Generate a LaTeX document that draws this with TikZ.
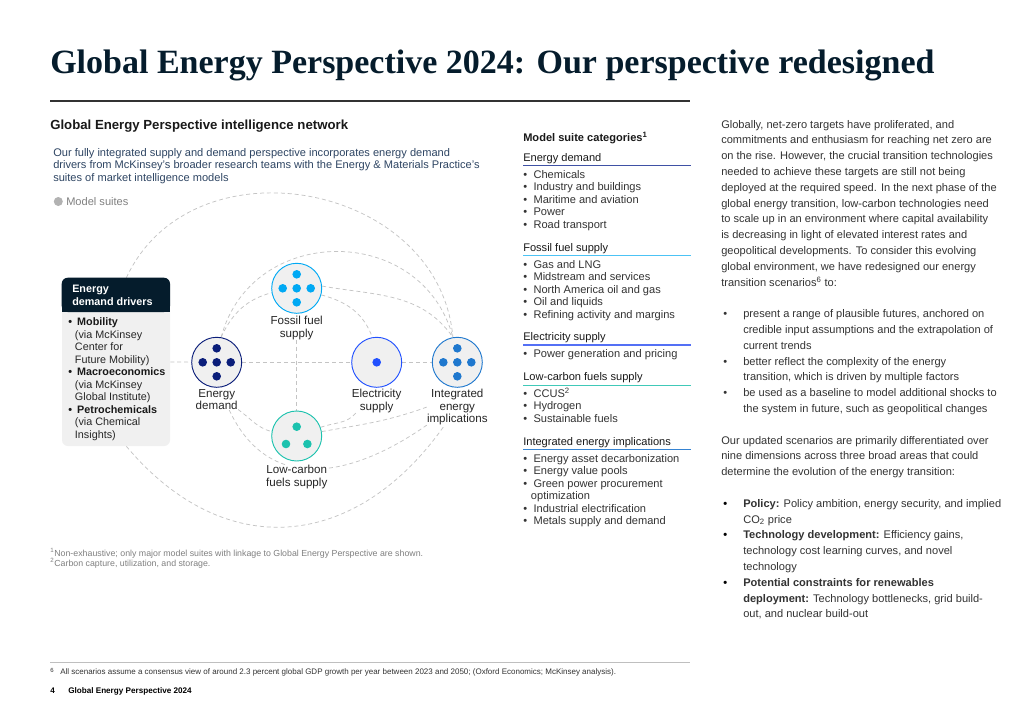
\documentclass[tikz,border=0pt]{standalone}
\usepackage{fontspec}
\setmainfont{Liberation Sans}
\newfontfamily\titlefont{Liberation Serif}
\usetikzlibrary{backgrounds}

\definecolor{navy}{HTML}{051C2C}
\definecolor{edblue}{HTML}{0B1E7A}
\definecolor{fosblue}{HTML}{00A9F4}
\definecolor{eleblue}{HTML}{2251FF}
\definecolor{intblue}{HTML}{1F78CE}
\definecolor{lcfteal}{HTML}{1CC2AE}
\definecolor{suitefill}{HTML}{F0F0F0}
\definecolor{linkgray}{HTML}{C4C4C4}
\definecolor{bodytext}{HTML}{333333}
\definecolor{introtext}{HTML}{2E4563}
\definecolor{notegray}{HTML}{808080}
\definecolor{edline}{HTML}{3F51A5}
\definecolor{fosline}{HTML}{4CC3F5}
\definecolor{eleline}{HTML}{5470F5}
\definecolor{lcfline}{HTML}{40C9B8}
\definecolor{intline}{HTML}{3583D2}

\tikzset{
  suite/.style={circle, draw=#1, line width=0.7pt, fill=suitefill, minimum size=37.5pt, inner sep=0pt},
  suitelbl/.style={font=\fontsize{8.7}{9.3}\selectfont, align=center, inner sep=0pt, anchor=north, text=black!85, fill=white},
  link/.style={draw=linkgray, line width=0.55pt, dash pattern=on 3pt off 2.2pt},
  txt/.style={anchor=base west, inner sep=0pt, text=bodytext, font=\fontsize{8.3}{10}\selectfont},
}

\begin{document}
\begin{tikzpicture}[x=0.75pt,y=0.75pt]
\begin{scope}[on background layer]
  \fill[white] (0,0) rectangle (1024,-724);
\end{scope}
\useasboundingbox (0,0) rectangle (1024,-724);

% title
\node[anchor=base west, inner sep=0pt, text=navy, font=\titlefont\bfseries\fontsize{25.5}{30}\selectfont] (title) at (50,-73.5)
  {Global Energy Perspective 2024: Our perspective redesigned};
\draw[black!80, line width=1.5pt] (50,-101) -- (690,-101);

% left block
\node[txt, font=\bfseries\fontsize{9.9}{12}\selectfont, text=black!90] (nethead) at (50,-129.5)
  {Global Energy Perspective intelligence network};
\foreach \i/\t in {0/{Our fully integrated supply and demand perspective incorporates energy demand},
                   1/{drivers from McKinsey's broader research teams with the Energy \& Materials Practice's},
                   2/{suites of market intelligence models}}
  \node[txt, text=introtext, font=\fontsize{8.3}{10}\selectfont] at (53,{-156-12.5*\i}) {\t};

\fill[black!30] (58.3,-201.5) circle (4.5);
\node[txt, text=notegray] (legend) at (66,-205) {Model suites};

% drivers box
\node[fill=suitefill, rounded corners=4.5pt, minimum width=81pt, minimum height=126pt, inner sep=0pt] (drv) at (116,-362) {};
\fill[navy, rounded corners=4.5pt] (drv.north west) rectangle (170,-312);
\fill[navy] (62,-300) rectangle (170,-312);
\node[txt, text=white, font=\bfseries\fontsize{8.1}{9.4}\selectfont] at (72,-292.5) {Energy};
\node[txt, text=white, font=\bfseries\fontsize{8.1}{9.4}\selectfont] at (72,-305) {demand drivers};
\foreach \k/\t in {1/{(via McKinsey}, 2/{Center for}, 3/{Future Mobility)}, 5/{(via McKinsey},
                   6/{Global Institute)}, 8/{(via Chemical}, 9/{Insights)}}
  \node[txt, text=black!85, font=\fontsize{8.1}{9.4}\selectfont] at (74.7,{-325.6-12.5*\k}) {\t};
\foreach \k/\t in {0/Mobility, 4/Macroeconomics, 7/Petrochemicals}
  \node[txt, text=black!90, font=\bfseries\fontsize{8.1}{9.4}\selectfont] at (68,{-325.6-12.5*\k})
    {\makebox[6.7pt][l]{\textbullet}\t};

% model suites
\node[suite=edblue] (ed) at (216.7,-362.3) {};
\node[suite=fosblue] (fos) at (296.7,-288.3) {};
\node[suite=eleblue] (ele) at (376.7,-362.3) {};
\node[suite=intblue] (int) at (457.3,-362.3) {};
\node[suite=lcfteal] (lcf) at (296.7,-436) {};

\foreach \nd/\col in {ed/edblue, fos/fosblue, int/intblue}
  \foreach \dx/\dy in {0/14, -14/0, 0/0, 14/0, 0/-14}
    \fill[\col] (\nd) ++(\dx,\dy) circle (4.3);
\fill[eleblue] (ele) circle (4.3);
\foreach \dx/\dy in {0/9.3, -10.7/-8, 10.7/-8}
  \fill[lcfteal] (lcf) ++(\dx,\dy) circle (4.3);

\node[suitelbl] (fosl) at (296.7,-316) {Fossil fuel\\supply};
\node[suitelbl] (edl) at (216.7,-389) {Energy\\demand};
\node[suitelbl] (elel) at (376.7,-389) {Electricity\\supply};
\node[suitelbl] (intl) at (457.3,-389) {Integrated\\energy\\implications};
\node[suitelbl] (lcfl) at (296.7,-465) {Low-carbon\\fuels supply};

% links
\begin{scope}[on background layer]
  \draw[link] (drv.east) -- (ed);
  \draw[link] (ed) -- (ele);
  \draw[link] (ele) -- (int);
  \draw[link] (fosl) -- (lcf);
  \draw[link] (ed.80) to[out=65,in=195] (fos.190);
  \draw[link] (ed.80) to[out=75,in=105,looseness=1.31] (int.100);
  \draw[link] (drv.83) to[out=65,in=95,looseness=1.2] (int.100);
  \draw[link] (fos.-15) to[out=-15,in=110] (ele.100);
  \draw[link] (fos.5) to[out=-10,in=125] (int.100);
  \draw[link] (edl.-25) to[out=-35,in=165] (lcf.170);
  \draw[link] (edl.-40) to[out=-65,in=-145,looseness=1.2] (intl.south west);
  \draw[link] (drv.-83) to[out=-50,in=-125,looseness=1.23] (intl.235);
  \draw[link] (lcf.20) to[out=20,in=-130] (elel.-150);
  \draw[link] (lcf.10) to[out=10,in=200] (intl.west);
\end{scope}

% model suite categories
\node[txt, font=\bfseries\fontsize{8.3}{10}\selectfont, text=black!90] (cathead) at (523,-141)
  {Model suite categories\textsuperscript{1}};
\foreach \y/\t/\col in {161/Energy demand/edline, 251/Fossil fuel supply/fosline,
                        340.3/Electricity supply/eleline, 380.6/Low-carbon fuels supply/lcfline,
                        445/Integrated energy implications/intline} {
  \node[txt, text=black!90] at (523,-\y) {\t};
  \draw[\col, line width=1pt] (523,-\y-4.7) -- (691,-\y-4.7);
}
\foreach \y/\t in {178.3/Chemicals, 190.8/Industry and buildings, 203.3/Maritime and aviation,
                   215.8/Power, 228.3/Road transport, 268.3/Gas and LNG, 280.8/Midstream and services,
                   293.3/North America oil and gas, 305.8/Oil and liquids, 318.3/Refining activity and margins,
                   357.3/Power generation and pricing, 397.3/CCUS\textsuperscript{2}, 409.8/Hydrogen,
                   422.3/Sustainable fuels, 462/Energy asset decarbonization, 474.5/Energy value pools,
                   487/Green power procurement, 512/Industrial electrification, 524.5/Metals supply and demand}
  \node[txt] at (523,-\y) {\makebox[7.7pt][l]{\textbullet}\t};
\node[txt] at (530.7,-499.5) {optimization};

% right column
\foreach \i/\t in {0/{Globally, net-zero targets have proliferated, and},
                   1/{commitments and enthusiasm for reaching net zero are},
                   2/{on the rise. However, the crucial transition technologies},
                   3/{needed to achieve these targets are still not being},
                   4/{deployed at the required speed. In the next phase of the},
                   5/{global energy transition, low-carbon technologies need},
                   6/{to scale up in an environment where capital availability},
                   7/{is decreasing in light of elevated interest rates and},
                   8/{geopolitical developments. To consider this evolving},
                   9/{global environment, we have redesigned our energy},
                   10/{transition scenarios\textsuperscript{6} to:},
                   20/{Our updated scenarios are primarily differentiated over},
                   21/{nine dimensions across three broad areas that could},
                   22/{determine the evolution of the energy transition:}}
  \node[txt] at (721,{-128-15.8*\i}) {\t};
\foreach \i/\t in {12/{present a range of plausible futures, anchored on},
                   13/{credible input assumptions and the extrapolation of},
                   14/{current trends},
                   15/{better reflect the complexity of the energy},
                   16/{transition, which is driven by multiple factors},
                   17/{be used as a baseline to model additional shocks to},
                   18/{the system in future, such as geopolitical changes},
                   24/{\textbf{Policy:} Policy ambition, energy security, and implied},
                   25/{CO\textsubscript{2} price},
                   26/{\textbf{Technology development:} Efficiency gains,},
                   27/{technology cost learning curves, and novel},
                   28/{technology},
                   29/{\textbf{Potential constraints for renewables}},
                   30/{\textbf{deployment:} Technology bottlenecks, grid build-},
                   31/{out, and nuclear build-out}}
  \node[txt] at (743,{-128-15.8*\i}) {\t};
\foreach \i in {12,15,17}
  \node[txt] at (723,{-128-15.8*\i}) {\textbullet};
\foreach \i in {24,26,29}
  \node[txt, font=\bfseries\fontsize{8.3}{10}\selectfont, text=black] at (723,{-128-15.8*\i}) {\textbullet};

% notes
\node[txt, text=notegray, font=\fontsize{6.6}{7.5}\selectfont] (note1) at (50,-556.5)
  {\textsuperscript{1}Non-exhaustive; only major model suites with linkage to Global Energy Perspective are shown.};
\node[txt, text=notegray, font=\fontsize{6.6}{7.5}\selectfont] (note2) at (50,-566.5)
  {\textsuperscript{2}Carbon capture, utilization, and storage.};

\draw[black!25, line width=0.6pt] (50,-662) -- (690,-662);
\node[txt, font=\fontsize{4.5}{5}\selectfont] at (50,-672) {6};
\node[txt, font=\fontsize{6}{7}\selectfont] (note6) at (60,-674.5)
  {All scenarios assume a consensus view of around 2.3 percent global GDP growth per year between 2023 and 2050; (Oxford Economics; McKinsey analysis).};
\node[txt, text=black, font=\bfseries\fontsize{6.1}{7}\selectfont] at (50,-693.5) {4};
\node[txt, text=black, font=\bfseries\fontsize{6.1}{7}\selectfont] (footer) at (68,-693.5) {Global Energy Perspective 2024};
\end{tikzpicture}
\end{document}
